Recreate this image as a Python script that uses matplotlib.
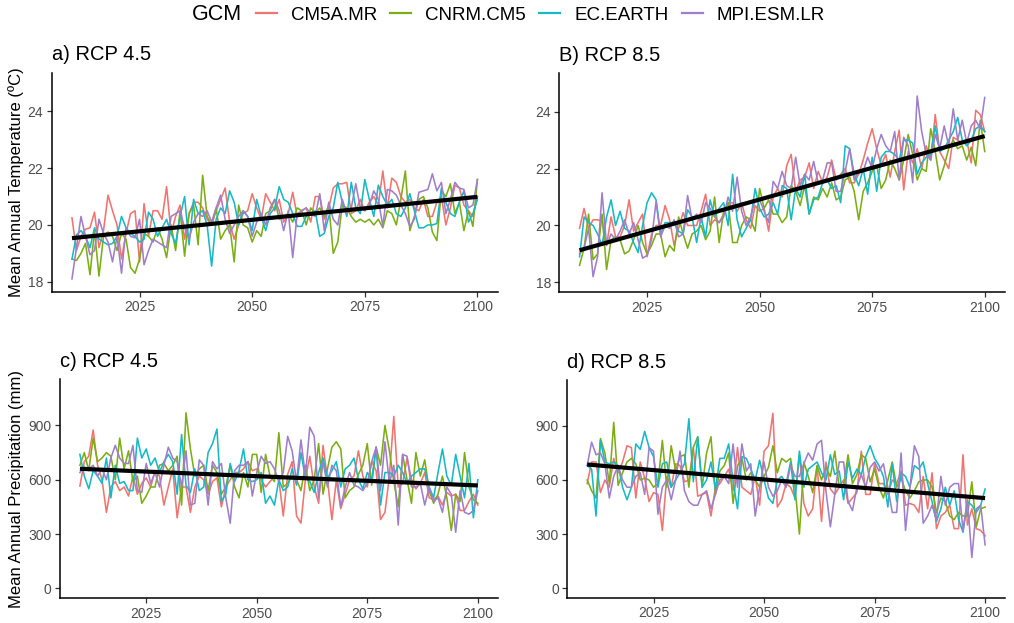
import numpy as np
import matplotlib

matplotlib.use("Agg")
import matplotlib.pyplot as plt
from matplotlib.lines import Line2D

plt.rcParams["font.family"] = ["Liberation Sans", "DejaVu Sans"]

years = np.arange(2010, 2101)
gcms = ["CM5A.MR", "CNRM.CM5", "EC.EARTH", "MPI.ESM.LR"]
colors = ["#F07470", "#7CAE14", "#17B9C6", "#A07FCA"]

# ---- mean annual temperature, RCP 4.5 ----
temp45_cm5a = [20.25, 19.1, 19.6, 19.85, 19.9, 20.45, 19.2, 19.8, 21.05, 20.5,
               20.0, 18.8, 19.7, 20.4, 20.5, 18.7, 20.75, 19.6, 20.5, 20.5,
               20.2, 21.35, 19.7, 20.3, 20.7, 19.5, 20.4, 20.8, 20.8, 20.6,
               20.2, 20.0, 20.5, 20.9, 21.3, 20.1, 19.5, 20.0, 20.4, 20.5,
               21.1, 20.6, 20.2, 21.1, 20.8, 20.5, 20.9, 20.1, 20.4, 21.15,
               20.3, 20.5, 20.6, 20.1, 21.0, 21.0, 20.2, 20.6, 21.3, 21.45,
               21.45, 21.5, 20.4, 20.5, 20.9, 20.5, 20.8, 21.0, 20.7, 21.9,
               20.6, 21.65, 21.5, 21.0, 20.8, 20.9, 20.6, 20.5, 20.9, 20.3,
               20.3, 20.8, 21.0, 20.0, 20.6, 21.4, 21.3, 20.7, 20.5, 20.3,
               21.0]
temp45_cnrm = [18.8, 18.75, 19.0, 19.35, 18.25, 19.8, 18.2, 19.6, 19.75, 19.6,
               19.1, 19.7, 19.5, 18.5, 18.3, 18.8, 19.7, 19.6, 19.4, 19.9,
               19.5, 18.85, 20.0, 19.1, 20.5, 18.9, 20.4, 20.7, 19.3, 21.75,
               20.3, 20.0, 20.6, 19.5, 19.8, 20.0, 18.7, 20.7, 20.0, 19.9,
               19.4, 19.8, 19.6, 20.4, 20.5, 20.9, 20.2, 20.3, 20.4, 20.1,
               20.6, 20.5, 20.0, 20.6, 20.4, 20.6, 20.3, 20.7, 19.0, 19.4,
               20.7, 20.6, 20.3, 20.1, 20.2, 20.1, 20.2, 20.0, 20.2, 19.9,
               20.5, 20.4, 20.0, 20.9, 21.9, 19.8, 20.3, 20.9, 21.0, 20.6,
               19.75, 19.45, 21.2, 21.0, 21.45, 20.4, 20.8, 19.8, 20.5, 19.95,
               21.6]
temp45_ecearth = [18.8, 19.65, 19.8, 19.6, 19.2, 19.9, 19.5, 19.4, 19.3, 19.35,
                  19.6, 20.3, 19.9, 19.7, 19.6, 19.4, 19.5, 20.45, 20.2, 19.6,
                  19.9, 20.2, 19.7, 19.35, 20.3, 21.0, 19.3, 20.9, 20.4, 20.5,
                  20.0, 18.55, 20.2, 20.6, 20.4, 21.2, 20.8, 20.0, 20.5, 20.3,
                  19.8, 20.9, 20.3, 19.8, 20.4, 20.6, 21.35, 20.9, 20.8, 20.4,
                  19.95, 19.95, 20.3, 20.4, 20.5, 19.6, 19.7, 20.3, 20.6, 21.5,
                  20.8, 20.3, 21.5, 20.6, 20.4, 21.6, 20.9, 20.3, 21.4, 21.0,
                  20.7, 20.9, 20.4, 20.3, 20.6, 21.1, 20.5, 19.9, 19.9, 20.0,
                  20.0, 20.05, 21.3, 20.8, 20.4, 20.3, 20.8, 21.2, 20.1, 20.4,
                  20.9]
temp45_mpi = [18.1, 19.2, 20.3, 19.6, 18.95, 19.1, 20.2, 19.7, 19.4, 18.7,
              19.6, 18.3, 19.9, 19.6, 19.55, 20.2, 18.6, 19.1, 19.5, 19.4,
              19.3, 19.2, 20.3, 20.4, 20.5, 19.9, 19.5, 20.1, 20.4, 20.3,
              20.5, 20.1, 20.6, 21.05, 20.2, 19.7, 20.0, 20.3, 20.5, 20.3,
              19.6, 20.1, 20.4, 20.0, 20.6, 20.9, 20.5, 19.8, 20.5, 18.85,
              20.4, 20.5, 20.6, 20.4, 20.3, 21.1, 19.8, 20.8, 20.2, 20.0,
              20.9, 20.4, 20.6, 21.45, 20.6, 20.5, 20.7, 21.2, 20.9, 19.95,
              21.25, 21.2, 21.05, 20.7, 20.4, 19.95, 20.2, 21.15, 21.2, 21.25,
              21.8, 21.2, 21.5, 20.4, 20.9, 21.5, 21.3, 21.25, 20.6, 20.7,
              21.6]

# ---- mean annual temperature, RCP 8.5 ----
temp85_cm5a = [19.9, 20.6, 19.9, 20.2, 20.2, 20.15, 19.3, 20.3, 19.6, 19.6,
               20.0, 20.9, 19.8, 20.1, 20.4, 18.9, 19.7, 20.0, 20.0, 20.7,
               20.2, 19.3, 19.9, 20.45, 20.0, 20.0, 20.0, 20.5, 21.1, 20.0,
               20.2, 20.1, 20.4, 20.8, 20.8, 20.5, 20.8, 20.2, 19.9, 20.7,
               20.5, 20.6, 19.8, 21.0, 21.3, 21.0, 22.1, 22.5, 21.2, 21.6,
               21.7, 22.2, 21.3, 21.9, 21.5, 21.7, 22.3, 21.6, 21.8, 22.0,
               21.5, 21.5, 21.8, 22.3, 22.9, 23.4, 22.7, 22.1, 22.5, 21.7,
               22.6, 23.35, 21.25, 22.6, 22.2, 22.7, 22.0, 22.8, 22.3, 23.9,
               22.6, 22.3, 22.0, 23.1, 23.0, 22.9, 23.0, 22.2, 24.05, 23.9,
               23.3]
temp85_cnrm = [18.6, 19.2, 20.4, 18.8, 19.0, 20.4, 18.45, 19.5, 19.6, 19.5,
               19.0, 19.1, 19.5, 20.0, 19.4, 19.0, 19.3, 19.7, 19.7, 18.9,
               19.3, 19.1, 20.3, 19.7, 19.2, 19.7, 19.8, 20.0, 19.5, 19.8,
               21.0, 19.4, 20.5, 20.8, 19.4, 19.4, 20.0, 20.3, 20.2, 19.8,
               21.3, 20.6, 20.9, 20.4, 20.4, 20.1, 20.3, 21.4, 21.2, 20.7,
               21.4, 20.4, 21.0, 20.9, 21.3, 21.0, 21.5, 20.9, 21.0, 21.6,
               21.7, 21.2, 20.2, 21.2, 21.5, 21.9, 22.1, 21.3, 21.6, 22.3,
               22.0, 21.6, 22.3, 23.2, 22.5, 21.6, 22.0, 21.9, 23.4, 22.6,
               21.6, 22.1, 22.7, 23.0, 22.7, 22.8, 22.3, 22.75, 22.1, 23.7,
               22.6]
temp85_ecearth = [18.9, 20.3, 20.1, 20.0, 19.7, 19.3, 20.3, 20.9, 20.0, 20.5,
                  19.9, 19.8, 19.4, 19.05, 20.0, 20.8, 21.15, 20.9, 19.7, 20.1,
                  20.1, 20.1, 19.8, 19.7, 20.55, 20.3, 19.4, 20.3, 19.6, 20.9,
                  20.3, 20.6, 20.8, 20.0, 21.8, 20.2, 19.6, 19.9, 20.2, 21.3,
                  20.6, 20.3, 20.4, 20.8, 20.4, 21.4, 21.3, 20.2, 21.3, 21.0,
                  21.8, 20.4, 20.9, 21.0, 21.5, 21.6, 21.3, 21.4, 20.8, 22.8,
                  22.7, 21.8, 21.4, 22.0, 21.1, 22.4, 21.2, 22.4, 22.6, 22.6,
                  22.5, 22.3, 23.0, 23.0, 22.9, 21.8, 22.2, 22.4, 22.5, 23.5,
                  22.6, 22.7, 23.0, 23.3, 23.8, 23.0, 22.8, 23.0, 23.4, 23.5,
                  23.3]
temp85_mpi = [19.0, 19.2, 19.9, 18.2, 18.9, 21.15, 19.3, 19.7, 19.5, 19.8,
              20.2, 19.7, 20.1, 19.5, 18.85, 18.95, 19.5, 20.85, 19.6, 20.0,
              19.9, 20.2, 19.6, 19.7, 21.05, 20.2, 20.4, 20.1, 20.8, 20.6,
              20.3, 20.1, 20.3, 21.0, 20.5, 21.7, 20.5, 20.0, 20.3, 20.9,
              20.9, 20.5, 20.1, 21.55, 21.3, 21.9, 21.4, 21.3, 22.4, 21.4,
              21.8, 21.6, 22.25, 21.5, 21.6, 22.2, 22.2, 21.2, 21.2, 21.9,
              22.7, 21.6, 21.9, 21.9, 22.4, 22.0, 22.7, 23.2, 22.8, 22.6,
              23.3, 21.6, 23.1, 22.8, 21.5, 24.55, 23.3, 22.5, 22.3, 23.2,
              22.7, 23.5, 22.8, 24.1, 23.0, 23.7, 22.9, 23.5, 23.7, 23.4,
              24.5]

# ---- mean annual precipitation, RCP 4.5 ----
prec45_cm5a = [565, 700, 730, 875, 680, 600, 420, 560, 590, 540,
               560, 510, 620, 520, 580, 610, 560, 650, 620, 460,
               560, 660, 390, 560, 560, 420, 560, 620, 600, 520,
               590, 610, 450, 560, 600, 640, 640, 660, 700, 650,
               660, 600, 560, 590, 620, 600, 400, 630, 700, 400,
               360, 600, 730, 560, 470, 790, 600, 380, 600, 440,
               520, 600, 620, 760, 620, 560, 700, 650, 380, 420,
               620, 950, 560, 580, 720, 600, 550, 580, 640, 500,
               490, 510, 460, 530, 510, 520, 430, 430, 480, 520,
               460]
prec45_cnrm = [680, 750, 650, 830, 700, 720, 750, 730, 600, 830,
               660, 760, 590, 620, 470, 510, 560, 560, 680, 690,
               650, 680, 730, 460, 970, 770, 620, 660, 680, 540,
               680, 640, 520, 560, 680, 560, 500, 640, 560, 740,
               740, 530, 740, 620, 590, 860, 560, 580, 620, 600,
               540, 680, 540, 600, 800, 520, 660, 780, 810, 770,
               500, 540, 560, 630, 680, 800, 570, 780, 680, 900,
               760, 590, 450, 740, 600, 470, 750, 620, 710, 540,
               470, 520, 620, 500, 320, 520, 480, 750, 560, 490,
               470]
prec45_ecearth = [740, 620, 550, 650, 620, 580, 720, 500, 680, 580,
                  590, 540, 540, 830, 720, 770, 680, 720, 640, 700,
                  740, 700, 520, 850, 570, 530, 660, 540, 560, 750,
                  800, 880, 480, 520, 690, 590, 650, 770, 600, 590,
                  600, 640, 470, 510, 460, 600, 540, 560, 660, 570,
                  750, 610, 590, 530, 640, 720, 610, 650, 700, 560,
                  660, 680, 720, 600, 550, 640, 600, 780, 460, 640,
                  640, 620, 680, 640, 580, 620, 640, 660, 660, 560,
                  500, 640, 770, 620, 570, 740, 620, 500, 690, 390,
                  600]
prec45_mpi = [640, 670, 660, 680, 620, 660, 600, 720, 790, 720,
              690, 690, 790, 540, 530, 690, 580, 640, 560, 680,
              780, 720, 700, 560, 760, 460, 470, 710, 680, 460,
              700, 660, 690, 500, 360, 650, 680, 680, 700, 510,
              640, 730, 690, 700, 660, 590, 640, 840, 760, 590,
              820, 620, 890, 840, 500, 700, 560, 680, 650, 450,
              560, 640, 570, 560, 540, 580, 700, 780, 540, 810,
              580, 680, 350, 740, 730, 560, 560, 580, 460, 560,
              480, 500, 420, 560, 520, 310, 540, 420, 410, 430,
              540]

# ---- mean annual precipitation, RCP 8.5 ----
prec85_cm5a = [580, 700, 700, 530, 600, 560, 720, 640, 700, 790,
               780, 500, 700, 610, 480, 530, 520, 320, 620, 560,
               690, 680, 590, 600, 780, 510, 520, 530, 400, 560,
               580, 620, 660, 540, 780, 560, 540, 520, 620, 460,
               760, 790, 970, 450, 490, 580, 560, 500, 740, 470,
               400, 440, 680, 370, 700, 550, 520, 560, 600, 470,
               500, 530, 760, 520, 520, 690, 580, 580, 520, 600,
               580, 650, 460, 470, 460, 420, 620, 440, 640, 330,
               400, 420, 460, 330, 330, 740, 350, 440, 330, 320,
               290]
prec85_cnrm = [600, 540, 500, 830, 750, 580, 920, 570, 640, 700,
               720, 690, 600, 610, 600, 560, 580, 820, 560, 790,
               650, 730, 740, 560, 780, 840, 560, 750, 840, 520,
               650, 680, 750, 470, 680, 720, 600, 640, 600, 560,
               620, 670, 790, 640, 720, 700, 720, 560, 300, 700,
               620, 530, 680, 600, 670, 620, 760, 560, 570, 740,
               580, 630, 740, 720, 590, 660, 560, 500, 600, 700,
               560, 610, 540, 500, 540, 590, 600, 600, 560, 420,
               500, 480, 400, 380, 420, 400, 400, 590, 340, 440,
               450]
prec85_ecearth = [680, 660, 400, 820, 700, 690, 700, 680, 560, 490,
                  560, 800, 770, 870, 780, 730, 560, 690, 700, 560,
                  600, 640, 690, 940, 590, 840, 560, 600, 700, 550,
                  720, 720, 800, 590, 440, 730, 720, 660, 600, 710,
                  600, 500, 470, 600, 620, 580, 700, 490, 760, 560,
                  660, 680, 700, 640, 600, 740, 630, 650, 490, 700,
                  610, 660, 630, 730, 790, 720, 680, 620, 450, 690,
                  480, 640, 620, 560, 680, 660, 700, 580, 480, 370,
                  440, 560, 460, 540, 380, 310, 480, 460, 420, 460,
                  550]
prec85_mpi = [680, 810, 740, 750, 690, 500, 620, 680, 600, 560,
              560, 620, 640, 520, 780, 760, 410, 560, 600, 490,
              600, 760, 540, 480, 460, 460, 520, 540, 440, 520,
              600, 620, 580, 800, 560, 800, 650, 690, 400, 560,
              700, 560, 510, 540, 600, 560, 680, 620, 620, 690,
              750, 710, 800, 820, 540, 340, 520, 700, 700, 480,
              430, 560, 630, 560, 670, 700, 650, 690, 560, 420,
              420, 750, 320, 560, 790, 730, 360, 400, 460, 380,
              620, 460, 560, 580, 580, 320, 490, 170, 440, 460,
              240]

panels = [
    ("a) RCP 4.5", [temp45_cm5a, temp45_cnrm, temp45_ecearth, temp45_mpi]),
    ("B) RCP 8.5", [temp85_cm5a, temp85_cnrm, temp85_ecearth, temp85_mpi]),
    ("c) RCP 4.5", [prec45_cm5a, prec45_cnrm, prec45_ecearth, prec45_mpi]),
    ("d) RCP 8.5", [prec85_cm5a, prec85_cnrm, prec85_ecearth, prec85_mpi]),
]

W, H = 1014, 623
fig = plt.figure(figsize=(W / 100, H / 100), dpi=100)

# panel boxes in pixels: left, top, right, bottom
boxes = [(51.7, 73, 497.7, 291.7), (559.3, 73.3, 1005, 292.3),
         (60, 379.3, 497.7, 598.3), (567.3, 380, 1005, 598)]
axes = []
for (l, t, r, b) in boxes:
    axes.append(fig.add_axes([l / W, 1 - b / H, (r - l) / W, (b - t) / H]))

for i, (ax, (title, series)) in enumerate(zip(axes, panels)):
    for vals, col in zip(series, colors):
        ax.plot(years, vals, color=col, lw=1.15, solid_joinstyle="round")
    # pooled linear trend across the four GCMs
    xs = np.tile(years, len(series))
    ys = np.concatenate([np.asarray(v, float) for v in series])
    slope, icpt = np.polyfit(xs, ys, 1)
    ax.plot(years, icpt + slope * years, color="black", lw=3.0,
            solid_capstyle="butt")

    ax.set_xlim(2005.5, 2104.5)
    ax.set_xticks([2025, 2050, 2075, 2100])
    if i < 2:
        ax.set_ylim(17.65, 25.35)
        ax.set_yticks([18, 20, 22, 24])
    else:
        ax.set_ylim(-55, 1155)
        ax.set_yticks([0, 300, 600, 900])

    for side in ("top", "right"):
        ax.spines[side].set_visible(False)
    for side in ("left", "bottom"):
        ax.spines[side].set_linewidth(1.1)
        ax.spines[side].set_color("black")
    ax.tick_params(axis="both", length=3.5, width=0.9, color="#333333",
                   labelcolor="#4D4D4D", labelsize=10, pad=2.5)
    ax.text(0, 1 + 18 / (boxes[i][3] - boxes[i][1]), title,
            transform=ax.transAxes, ha="left", va="center", fontsize=14.5)

# label coords give the right-hand (baseline) edge of the rotated text
axes[0].set_ylabel("Mean Annual Temperature (ºC)", fontsize=12)
axes[0].yaxis.set_label_coords((24 - 51.7) / 446, 0.5)
axes[2].set_ylabel("Mean Annual Precipitation (mm)", fontsize=12)
axes[2].yaxis.set_label_coords((24 - 60) / 437.7, 0.5)

# legend along the top
fig.text(192 / W, 1 - 15 / H, "GCM", ha="left", va="center", fontsize=15.5)
handles = [Line2D([0], [0], color=c, lw=1.6) for c in colors]
fig.legend(handles, gcms, loc="center", bbox_to_anchor=(540.5 / W, 1 - 15 / H),
           ncol=4, frameon=False, fontsize=13.5, handlelength=1.12,
           handletextpad=0.75, columnspacing=0.7, borderpad=0)

fig.savefig("out.png", dpi=100)
